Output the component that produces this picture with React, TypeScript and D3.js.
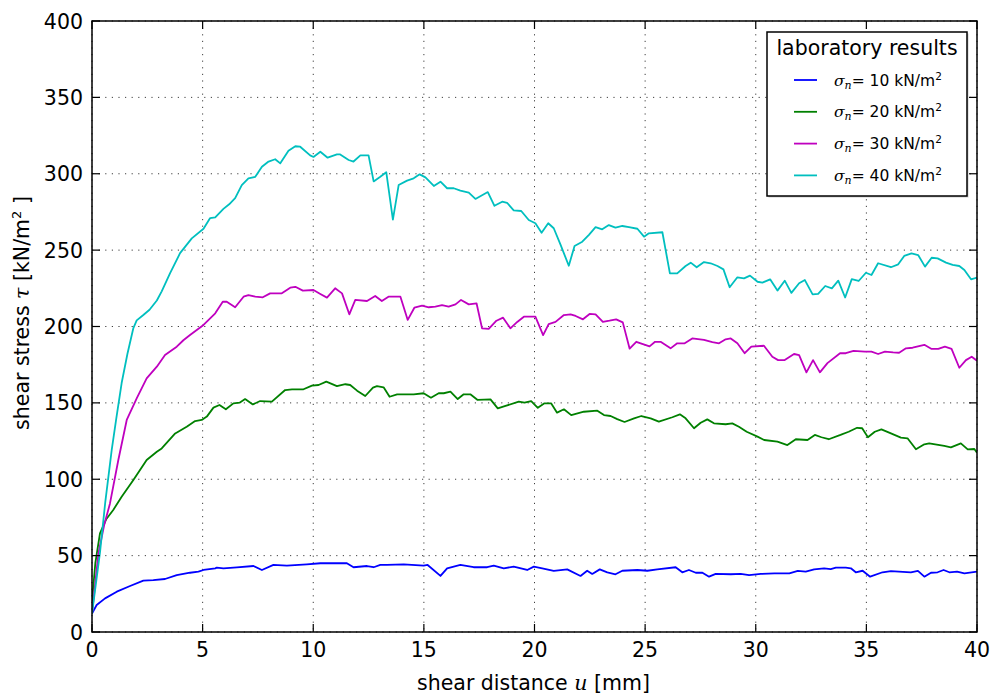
import React from "react";
import * as d3 from "d3";

// shear distance u [mm], shear stress tau [kN/m2]
const sigma10: [number, number][] = [
  [0, 12], [0.21, 17.7], [0.59, 22], [1.12, 26.4], [1.72, 30.1], [2.32, 33.6], [2.77, 34], [3.3, 34.7],
  [3.83, 37.3], [4.43, 38.8], [4.81, 39.5], [5.04, 40.6], [5.57, 41.7], [5.64, 42.1], [5.94, 41.7],
  [6.55, 42.3], [7.3, 43.2], [7.68, 40.6], [8.2, 43.9], [8.81, 43.4], [9.71, 44.3], [10.32, 45],
  [11.52, 45], [11.82, 42.4], [12.43, 43.2], [12.73, 42.4], [13.03, 43.9], [13.33, 43.9], [14.09, 44.3],
  [14.99, 43.4], [15.17, 43.9], [15.75, 36.7], [16.05, 41.7], [16.65, 43.9], [17.25, 42.4], [17.86, 42.4],
  [18.16, 43.4], [18.61, 41.7], [19.06, 42.8], [19.67, 40.6], [19.97, 42.8], [20.35, 41.7], [20.87, 40],
  [21.48, 41], [22.08, 36.7], [22.38, 40.1], [22.61, 38], [22.95, 41], [23.29, 39], [23.66, 37.8],
  [23.97, 40.1], [24.65, 40.6], [25.1, 40.1], [25.55, 41], [26.38, 42.4], [26.68, 39.1], [26.98, 40.6],
  [27.29, 38.8], [27.59, 38.8], [27.89, 36.2], [28.19, 38], [28.87, 37.8], [29.32, 38], [29.7, 37.3],
  [30.23, 38], [30.84, 38.4], [31.52, 38.4], [31.9, 40], [32.26, 39.5], [32.64, 41], [33.09, 41.7],
  [33.39, 41.2], [33.62, 42.1], [34.07, 42.1], [34.3, 41.7], [34.52, 39.1], [34.83, 40.1], [35.17, 36.2],
  [35.73, 39.1], [36.11, 39.9], [37.01, 39.1], [37.33, 40], [37.62, 36.2], [37.92, 38.8], [38.22, 39.1],
  [38.49, 40.6], [38.75, 39.1], [39.1, 39.5], [39.43, 38.4], [40, 39.5],
];

const sigma20: [number, number][] = [
  [0, 20], [0.15, 45], [0.36, 64.6], [0.65, 74], [0.96, 79.9], [1.34, 88.6], [1.87, 99.5], [2.47, 112.6],
  [2.93, 118], [3.15, 120.2], [3.76, 130], [4.28, 134.4], [4.66, 138.1], [4.96, 138.8], [5.19, 141],
  [5.49, 146.9], [5.76, 148.6], [6.05, 145.8], [6.39, 149.7], [6.67, 150.1], [6.92, 152.5], [7.27, 149],
  [7.6, 151.2], [8.13, 150.8], [8.73, 158.4], [9.04, 158.9], [9.56, 158.9], [9.94, 161.3], [10.24, 161.7],
  [10.59, 163.9], [11.07, 161], [11.45, 162.2], [11.67, 161.7], [11.98, 158], [12.35, 154.5], [12.7, 160],
  [12.88, 161], [13.18, 160.2], [13.45, 154], [13.79, 155.6], [14.54, 155.6], [14.99, 156.3], [15.32, 153.4],
  [15.67, 156.3], [15.9, 156.3], [16.2, 157.3], [16.53, 152.5], [16.8, 155.6], [17.1, 155.6], [17.43, 151.9],
  [18.01, 152.3], [18.34, 146.4], [18.69, 148], [19.29, 150.8], [19.55, 150.1], [19.85, 151.2],
  [20.15, 146.8], [20.45, 149.7], [20.75, 149.7], [21.02, 143.6], [21.33, 145.8], [21.66, 142],
  [22.23, 144.2], [22.84, 144.9], [23.14, 142], [23.44, 141.4], [23.74, 139.4], [24.07, 137.5],
  [24.5, 139.9], [24.83, 141.4], [25.25, 139.9], [25.62, 137.7], [26.23, 140.6], [26.57, 142.5],
  [26.83, 139.9], [27.21, 133.4], [27.51, 137], [27.81, 139.2], [28.11, 136.6], [28.64, 136],
  [28.94, 136.6], [29.24, 134.4], [29.59, 131.1], [30.08, 127.9], [30.38, 125.7], [30.98, 124.6],
  [31.43, 122.4], [31.81, 126.2], [32.34, 125.7], [32.67, 129], [32.97, 127.5], [33.3, 126.2], [33.83, 129],
  [34.2, 131.1], [34.58, 133.7], [34.81, 133.4], [35.07, 127.5], [35.38, 131.1], [35.68, 132.7],
  [36.11, 130], [36.56, 127.3], [36.86, 126.8], [37.24, 119.6], [37.62, 122.9], [37.84, 123.5],
  [38.52, 121.8], [38.82, 120.9], [39.27, 123.5], [39.58, 119.6], [39.88, 119.8], [40, 117.4],
];

const sigma30: [number, number][] = [
  [0, 12], [0.29, 51.5], [0.55, 70], [0.81, 84], [1.19, 112.6], [1.57, 138.8], [2.02, 153], [2.47, 166],
  [2.93, 173.7], [3.3, 181.3], [3.83, 186.8], [4.13, 191], [4.43, 194.4], [5.04, 201], [5.57, 208.6],
  [5.91, 216.2], [6.09, 216.2], [6.47, 212.6], [6.85, 219.5], [7.07, 220.6], [7.38, 219.5], [7.72, 219.1],
  [8.05, 221.7], [8.58, 221.7], [8.96, 225.4], [9.19, 226], [9.53, 223.5], [10.01, 223.9], [10.32, 221.3],
  [10.62, 218.9], [10.99, 225], [11.3, 221.7], [11.63, 208], [11.9, 217.4], [12.43, 216.7], [12.8, 220],
  [13.1, 216.7], [13.4, 219.5], [13.94, 219.5], [14.27, 204.3], [14.57, 212.3], [14.92, 213.6],
  [15.22, 212.6], [15.52, 213], [15.82, 214], [16.12, 213], [16.43, 214.5], [16.68, 217.4], [17.03, 214.5],
  [17.38, 215.2], [17.63, 198.8], [17.93, 198.4], [18.28, 203.8], [18.58, 205.8], [18.91, 198.8],
  [19.22, 203], [19.52, 206.4], [20.04, 206.4], [20.39, 194.4], [20.64, 201.6], [20.95, 203],
  [21.33, 207.5], [21.63, 208], [21.86, 206.9], [22.19, 204.7], [22.49, 208.2], [22.76, 208],
  [23.09, 203], [23.39, 203.8], [23.69, 204.7], [23.99, 202.7], [24.3, 185.5], [24.6, 190], [24.9, 188.5],
  [25.2, 187], [25.45, 190], [25.7, 190], [26.15, 185.7], [26.45, 189], [26.79, 189], [27.13, 192.2],
  [27.66, 191.2], [28.04, 189.7], [28.34, 189], [28.64, 191.6], [28.87, 192.2], [29.17, 189], [29.5, 182.5],
  [29.8, 186.8], [30.37, 187.4], [30.75, 180.2], [31.01, 178], [31.31, 178], [31.73, 182], [31.96, 181.3],
  [32.29, 170], [32.59, 178], [32.9, 170], [33.24, 176], [33.81, 182.5], [34.07, 182.5], [34.42, 184],
  [34.93, 183.5], [35.23, 183.5], [35.53, 182], [35.84, 183.5], [36.21, 183], [36.48, 182.8],
  [36.79, 185.7], [37.09, 186.1], [37.62, 188], [37.95, 185.3], [38.25, 185.3], [38.55, 186.8],
  [38.85, 185.3], [39.2, 173], [39.5, 178], [39.76, 180.2], [40, 177.6],
];

const sigma40: [number, number][] = [
  [0, 12], [0.36, 52], [0.6, 85], [0.89, 119], [1.1, 140], [1.34, 163], [1.6, 182], [1.87, 199],
  [2.02, 204], [2.32, 207.5], [2.6, 211], [2.93, 217], [3.15, 223], [3.53, 235], [3.98, 248], [4.51, 257.7],
  [5.04, 264], [5.34, 271], [5.57, 271.5], [5.94, 277], [6.2, 280], [6.47, 284], [6.77, 292.6], [7.07, 297],
  [7.38, 298], [7.68, 304.6], [7.98, 308], [8.28, 309.5], [8.51, 306.8], [8.88, 315], [9.19, 318],
  [9.41, 317.7], [9.86, 312], [10.01, 311], [10.32, 314.4], [10.65, 310.5], [11.07, 312.7], [11.2, 312.7],
  [11.6, 309], [11.82, 308], [12.13, 312], [12.5, 312], [12.73, 295], [13.03, 298], [13.3, 301],
  [13.6, 270], [13.86, 292.6], [14.24, 295.5], [14.54, 297], [14.81, 299.6], [15.07, 297.6], [15.45, 292],
  [15.75, 294.8], [16.05, 290.5], [16.35, 290.5], [16.65, 289], [17.03, 287.6], [17.33, 283.5],
  [17.89, 288], [18.19, 279], [18.54, 281.7], [18.76, 281], [19.06, 276], [19.4, 275.6], [19.74, 269.7],
  [20.04, 267.6], [20.32, 261.4], [20.62, 267.6], [20.87, 264.3], [21.18, 253.4], [21.55, 239.8],
  [21.81, 252.7], [22.16, 255.5], [22.46, 260], [22.76, 265], [23.06, 263.6], [23.36, 266.4],
  [23.66, 264.7], [23.97, 265.8], [24.27, 265], [24.65, 264], [24.95, 258.8], [25.17, 261], [25.78, 261.7],
  [26.12, 234.8], [26.45, 234.8], [26.83, 239.6], [27.06, 241.8], [27.33, 238.8], [27.66, 242.2],
  [27.96, 241.4], [28.27, 239.6], [28.54, 237.4], [28.82, 225.7], [29.17, 232.2], [29.47, 231.5],
  [29.74, 233.3], [30.08, 229.3], [30.3, 228.7], [30.65, 230.9], [30.98, 223.5], [31.31, 230], [31.61, 222],
  [31.96, 228.3], [32.22, 230.4], [32.57, 221], [32.82, 221.3], [33.14, 226.5], [33.44, 225], [33.73, 230],
  [34.04, 219], [34.34, 231], [34.65, 229.8], [34.98, 235.2], [35.23, 233.7], [35.53, 241.4],
  [36.11, 238.8], [36.44, 240.7], [36.71, 246.2], [37.04, 247.9], [37.34, 246.8], [37.65, 239.2],
  [37.95, 245], [38.22, 244.6], [38.6, 241.8], [38.9, 240.3], [39.2, 239.6], [39.43, 237], [39.73, 230.9],
  [40, 232],
];

const seriesLabels = ["10", "20", "30", "40"];
const xTicks = [0, 5, 10, 15, 20, 25, 30, 35, 40];
const yTicks = [0, 50, 100, 150, 200, 250, 300, 350, 400];

const series = [
  { name: seriesLabels[0], data: sigma10, color: "#0000ff" },
  { name: seriesLabels[1], data: sigma20, color: "#008000" },
  { name: seriesLabels[2], data: sigma30, color: "#bf00bf" },
  { name: seriesLabels[3], data: sigma40, color: "#00bfbf" },
];

const W = 992;
const H = 697;
const m = { left: 92, right: 977, top: 21, bottom: 632 };
const FONT = "'DejaVu Sans', sans-serif";
const MATH = "'DejaVu Serif', serif";

export default function App() {
  const x = d3.scaleLinear().domain([0, 40]).range([m.left, m.right]);
  const y = d3.scaleLinear().domain([0, 400]).range([m.bottom, m.top]);
  const line = d3
    .line<[number, number]>()
    .x((d) => x(d[0]))
    .y((d) => y(d[1]));

  const tick = 8;
  // legend box
  const lg = { x: 767, y: 32, w: 200, h: 164 };

  return (
    <svg
      width={W}
      height={H}
      style={{ position: "absolute", left: 0, top: 0, background: "#fff" }}
      fontFamily={FONT}
    >
      <rect width={W} height={H} fill="#fff" />
      <defs>
        <clipPath id="plot">
          <rect x={m.left} y={m.top} width={m.right - m.left} height={m.bottom - m.top} />
        </clipPath>
      </defs>

      {/* grid */}
      <g stroke="#000" strokeWidth={1} strokeDasharray="1.2,5.4" opacity={0.75}>
        {xTicks.map((t) => (
          <line key={"gx" + t} x1={x(t)} x2={x(t)} y1={m.top} y2={m.bottom} />
        ))}
        {yTicks.map((t) => (
          <line key={"gy" + t} x1={m.left} x2={m.right} y1={y(t)} y2={y(t)} />
        ))}
      </g>

      {/* data */}
      <g clipPath="url(#plot)" fill="none" strokeWidth={1.8} strokeLinejoin="round">
        {series.map((s) => (
          <path key={s.name} d={line(s.data) ?? ""} stroke={s.color} />
        ))}
      </g>

      {/* frame + ticks */}
      <rect
        x={m.left}
        y={m.top}
        width={m.right - m.left}
        height={m.bottom - m.top}
        fill="none"
        stroke="#000"
        strokeWidth={1.5}
      />
      <g stroke="#000" strokeWidth={1.2}>
        {xTicks.map((t) => (
          <g key={"tx" + t}>
            <line x1={x(t)} x2={x(t)} y1={m.bottom} y2={m.bottom - tick} />
            <line x1={x(t)} x2={x(t)} y1={m.top} y2={m.top + tick} />
          </g>
        ))}
        {yTicks.map((t) => (
          <g key={"ty" + t}>
            <line x1={m.left} x2={m.left + tick} y1={y(t)} y2={y(t)} />
            <line x1={m.right} x2={m.right - tick} y1={y(t)} y2={y(t)} />
          </g>
        ))}
      </g>

      {/* tick labels */}
      <g fontSize={20.5} fill="#000">
        {xTicks.map((t) => (
          <text key={"lx" + t} x={x(t)} y={m.bottom + 25} textAnchor="middle">
            {t}
          </text>
        ))}
        {yTicks.map((t) => (
          <text key={"ly" + t} x={m.left - 9} y={y(t) + 7.5} textAnchor="end">
            {t}
          </text>
        ))}
      </g>

      {/* axis labels */}
      <text x={(m.left + m.right) / 2 - 1} y={690} fontSize={20.5} textAnchor="middle">
        shear distance{" "}
        <tspan fontFamily={MATH} fontStyle="italic">
          u
        </tspan>{" "}
        [mm]
      </text>
      <text
        transform={`translate(28.5,${313}) rotate(-90)`}
        fontSize={20.5}
        textAnchor="middle"
      >
        shear stress{" "}
        <tspan fontFamily={MATH} fontStyle="italic">
          τ
        </tspan>{" "}
        [kN/m
        <tspan fontSize={13} dy={-8}>
          2
        </tspan>
        <tspan dy={8}> ]</tspan>
      </text>

      {/* legend */}
      <rect x={lg.x + 1.5} y={lg.y + 1.5} width={lg.w} height={lg.h} fill="#999" opacity={0.5} />
      <rect x={lg.x} y={lg.y} width={lg.w} height={lg.h} fill="#fff" stroke="#000" strokeWidth={1.5} />
      <text x={lg.x + lg.w / 2} y={lg.y + 23} fontSize={20.5} textAnchor="middle">
        laboratory results
      </text>
      {series.map((s, i) => {
        const ly = lg.y + 48 + i * 31.8;
        return (
          <g key={"lg" + s.name}>
            <line x1={794} x2={817} y1={ly} y2={ly} stroke={s.color} strokeWidth={1.8} />
            <text x={834} y={ly + 5.5} fontSize={15.5} fill="#000">
              <tspan fontFamily={MATH} fontStyle="italic">
                σ
              </tspan>
              <tspan fontFamily={MATH} fontStyle="italic" fontSize={11} dy={3}>
                n
              </tspan>
              <tspan dy={-3}>= {s.name} kN/m</tspan>
              <tspan fontSize={10.5} dy={-6}>
                2
              </tspan>
            </text>
          </g>
        );
      })}
    </svg>
  );
}
